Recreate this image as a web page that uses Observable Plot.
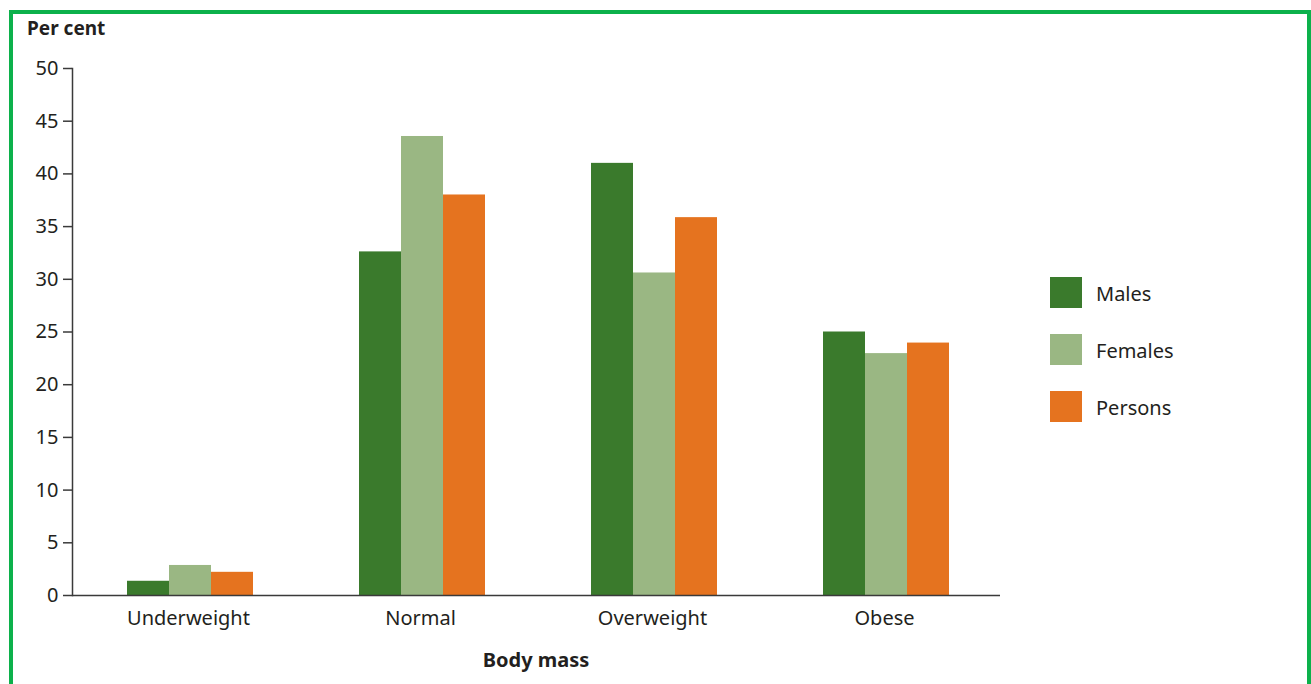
<!DOCTYPE html>
<html>
<head>
<meta charset="utf-8">
<script src="https://cdn.jsdelivr.net/npm/d3@7"></script>
<script src="https://cdn.jsdelivr.net/npm/@observablehq/plot@0.6"></script>
<style>
  html, body { margin: 0; padding: 0; background: #fff; }
  #wrap { position: relative; width: 1311px; height: 684px; overflow: hidden; font-family: "Noto Sans", sans-serif; color: #231f20; }
  #border { position: absolute; left: 9px; top: 10px; width: 1294px; height: 720px; border: 4px solid #0cb14b; pointer-events: none; }
  #chart { position: absolute; left: 0; top: 0; }
  .ylab { position: absolute; left: 27px; top: 19px; font-size: 19px; font-weight: 700; line-height: 1; white-space: nowrap; }
  .xlab { position: absolute; left: 72px; width: 928px; top: 650px; text-align: center; font-size: 20px; font-weight: 700; line-height: 1; }
  #legend { position: absolute; left: 1050px; top: 277px; }
  .item { display: flex; align-items: center; height: 31px; margin-bottom: 26px; }
  .sw { width: 32px; height: 31px; margin-right: 14px; }
  .item span { font-size: 20px; line-height: 1; position: relative; top: 1px; }
</style>
</head>
<body>
<div id="wrap">
  <div id="chart"></div>
  <div class="ylab">Per cent</div>
  <div class="xlab">Body mass</div>
  <div id="legend"></div>
  <div id="border"></div>
</div>
<script>
const categories = ["Underweight", "Normal", "Overweight", "Obese"];
const series = ["Males", "Females", "Persons"];
const males = [1.35, 32.6, 41.0, 25.0];
const females = [2.85, 43.55, 30.6, 22.95];
const persons = [2.2, 38.0, 35.85, 23.95];
const colors = ["#3a7a2c", "#9ab783", "#e5731f"];
const yTicks = [0, 5, 10, 15, 20, 25, 30, 35, 40, 45, 50];

const valuesBySeries = [males, females, persons];
const data = [];
categories.forEach((c, i) => {
  series.forEach((s, j) => {
    data.push({category: c, series: s, value: valuesBySeries[j][i]});
  });
});

const plot = Plot.plot({
  width: 1311,
  height: 684,
  marginLeft: 72,
  marginRight: 311,
  marginTop: 68,
  marginBottom: 89,
  style: {fontFamily: "'Noto Sans', sans-serif", fontSize: "20px", color: "#231f20", background: "transparent"},
  fx: {domain: categories, padding: 0},
  x: {domain: series, paddingInner: 0, paddingOuter: 1.26, align: 0.52, axis: null},
  y: {domain: [0, 50]},
  color: {domain: series, range: colors},
  marks: [
    Plot.barY(data, {fx: "category", x: "series", y: "value", fill: "series"}),
    Plot.ruleY([0], {stroke: "#3a3a3a", strokeWidth: 1.5}),
    Plot.frame({anchor: "left", facetAnchor: "left", stroke: "#3a3a3a", strokeWidth: 1.5}),
    Plot.axisY({ticks: yTicks, tickSize: 9, tickPadding: 5, label: null, stroke: "#3a3a3a", strokeWidth: 1.5, fill: "#231f20", fontSize: 20}),
    Plot.axisFx({anchor: "bottom", tickSize: 0, tickPadding: 15, label: null, fontSize: 20, fill: "#231f20"})
  ]
});
document.getElementById("chart").appendChild(plot);

const legend = document.getElementById("legend");
series.forEach((s, j) => {
  const item = document.createElement("div");
  item.className = "item";
  const sw = document.createElement("div");
  sw.className = "sw";
  sw.style.background = colors[j];
  const t = document.createElement("span");
  t.textContent = s;
  item.appendChild(sw);
  item.appendChild(t);
  legend.appendChild(item);
});
</script>
</body>
</html>
